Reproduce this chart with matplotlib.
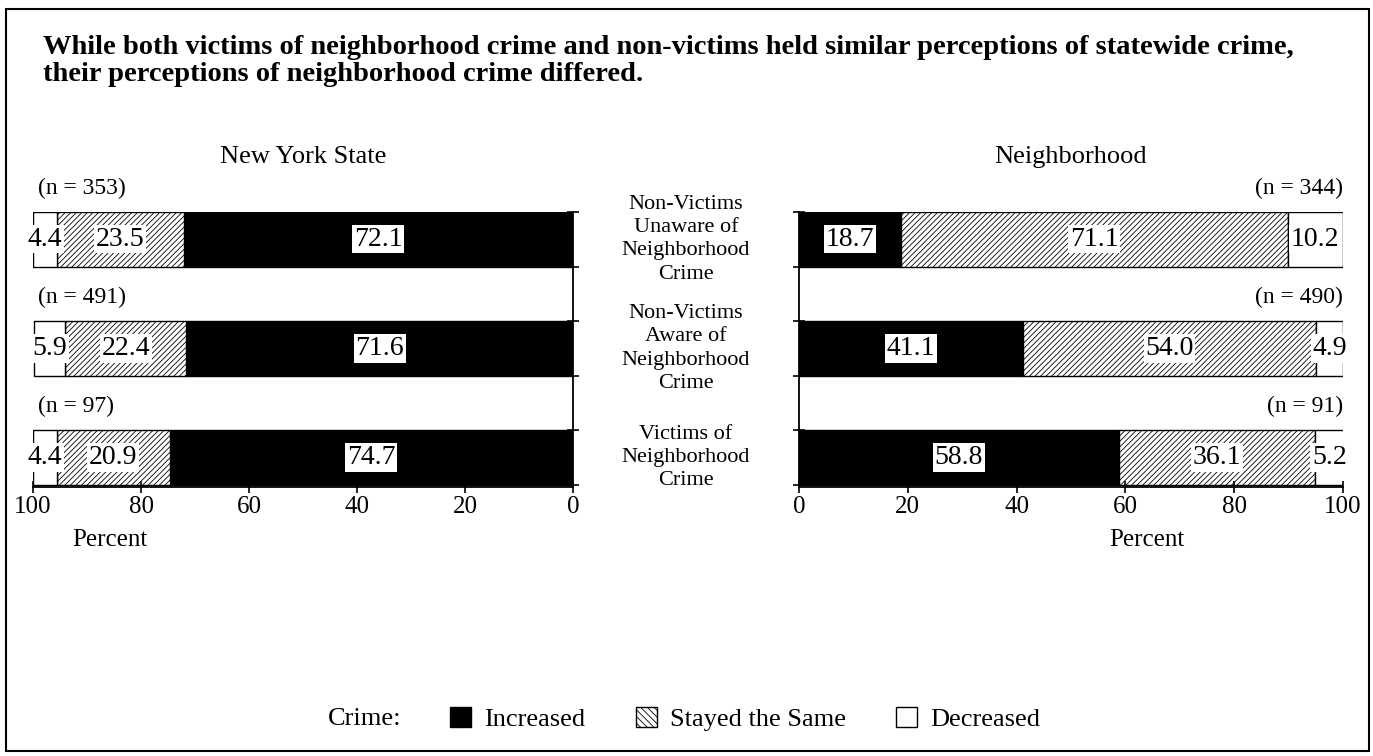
import numpy as np
import matplotlib
matplotlib.use('Agg')
import matplotlib.pyplot as plt
import matplotlib.patches as mpatches
import matplotlib.transforms as mtransforms

plt.rcParams['font.family'] = ['Liberation Serif', 'DejaVu Serif']
plt.rcParams['hatch.linewidth'] = 0.6

# data (rows top to bottom)
groups = ['Non-Victims\nUnaware of\nNeighborhood\nCrime',
          'Non-Victims\nAware of\nNeighborhood\nCrime',
          'Victims of\nNeighborhood\nCrime']
state_n = [353, 491, 97]
state_increased = [72.1, 71.6, 74.7]
state_same = [23.5, 22.4, 20.9]
state_decreased = [4.4, 5.9, 4.4]
hood_n = [344, 490, 91]
hood_increased = [18.7, 41.1, 58.8]
hood_same = [71.1, 54.0, 36.1]
hood_decreased = [10.2, 4.9, 5.2]
xticks = [0, 20, 40, 60, 80, 100]

W, H = 1373, 756
fig = plt.figure(figsize=(W / 100, H / 100), dpi=100)

ax_bottom = 1 - 487 / H
ax_height = (487 - 212) / H
axL = fig.add_axes([33 / W, ax_bottom, (573 - 33) / W, ax_height])
axR = fig.add_axes([799 / W, ax_bottom, (1343 - 799) / W, ax_height])

ypos = np.array([2, 1, 0])
bh = 0.5
edges = [-0.25, 0.25, 0.75, 1.25, 1.75, 2.25]


def draw_panel(ax, inc, same, dec, nvals, side):
    inc = np.array(inc)
    same = np.array(same)
    dec = np.array(dec)
    ax.barh(ypos, inc, height=bh, color='black', edgecolor='black', lw=1)
    ax.barh(ypos, same, left=inc, height=bh, color='white', edgecolor='black',
            hatch='//////', lw=1)
    ax.barh(ypos, dec, left=inc + same, height=bh, color='white', edgecolor='black', lw=1)
    box = dict(boxstyle='square,pad=0.06', fc='white', ec='none')
    for y, a, b, c in zip(ypos, inc, same, dec):
        for val, lft in [(a, 0), (b, a), (c, a + b)]:
            ax.text(lft + val / 2, y, f'{val:.1f}', ha='center', va='center',
                    fontsize=20, bbox=box)
    ax.set_xlim(0, 100)
    ax.set_ylim(-0.27, 2.25)
    ax.set_xticks(xticks)
    ax.set_xticklabels([str(t) for t in xticks], fontsize=18)
    ax.set_yticks(edges)
    ax.set_yticklabels([])
    ax.tick_params(axis='both', direction='inout', length=9, width=1.2, pad=2)
    ax.spines['top'].set_visible(False)
    for s in ax.spines.values():
        s.set_linewidth(1.3)
    if side == 'left':
        ax.invert_xaxis()
        ax.spines['left'].set_visible(False)
        ax.yaxis.tick_right()
        for y, n in zip(ypos, nvals):
            ax.text(100 - 1, y + bh / 2 + 0.22, f'(n = {n})', ha='left', va='center',
                    fontsize=17, clip_on=False)
    else:
        ax.spines['right'].set_visible(False)
        ax.yaxis.tick_left()
        for y, n in zip(ypos, nvals):
            ax.text(100, y + bh / 2 + 0.22, f'(n = {n})', ha='right', va='center',
                    fontsize=17, clip_on=False)


draw_panel(axL, state_increased, state_same, state_decreased, state_n, 'left')
draw_panel(axR, hood_increased, hood_same, hood_decreased, hood_n, 'right')

axL.text(0.5, 1.2, 'New York State', transform=axL.transAxes, ha='center',
         va='center', fontsize=19)
axR.text(0.5, 1.2, 'Neighborhood', transform=axR.transAxes, ha='center',
         va='center', fontsize=19)

fig.text(110 / W, 1 - 540 / H, 'Percent', ha='center', va='center', fontsize=18)
fig.text(1147 / W, 1 - 540 / H, 'Percent', ha='center', va='center', fontsize=18)

# group labels in the middle
tr = mtransforms.blended_transform_factory(fig.transFigure, axL.transData)
for y, g in zip(ypos, groups):
    fig.text(686 / W, y, g, transform=tr, ha='center', va='center',
             fontsize=16, linespacing=1.3)

fig.text(43 / W, 1 - 54 / H,
         'While both victims of neighborhood crime and non-victims held similar '
         'perceptions of statewide crime,',
         ha='left', va='baseline', fontsize=20.5, fontweight='bold')
fig.text(43 / W, 1 - 81 / H, 'their perceptions of neighborhood crime differed.',
         ha='left', va='baseline', fontsize=20.5, fontweight='bold')

# legend
fig.text(328 / W, 1 - 719 / H, 'Crime:', ha='left', va='center', fontsize=19)
handles = [mpatches.Patch(fc='black', ec='black', label='Increased'),
           mpatches.Patch(fc='white', ec='black', hatch='\\\\\\\\\\', label='Stayed the Same'),
           mpatches.Patch(fc='white', ec='black', label='Decreased')]
fig.legend(handles=handles, loc='center left', bbox_to_anchor=(450 / W, 1 - 719 / H),
           ncol=3, frameon=False, fontsize=19, handlelength=0.8, handleheight=0.8,
           handletextpad=0.5, columnspacing=1.9, borderpad=0, borderaxespad=0)

# outer frame
fig.patches.append(mpatches.Rectangle((6 / W, 5 / H), 1 - 10 / W, 1 - 14 / H,
                                      transform=fig.transFigure, fill=False,
                                      ec='black', lw=1.5))

fig.savefig('out.png', dpi=100)
